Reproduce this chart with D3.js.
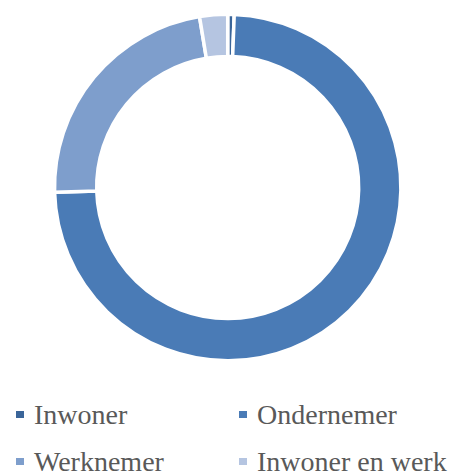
<!DOCTYPE html>
<html><head><meta charset="utf-8">
<script src="https://cdn.jsdelivr.net/npm/d3@7"></script>
<style>body{margin:0;background:#fff}svg{display:block}</style>
</head><body>
<script>
const categories = ["Inwoner", "Ondernemer", "Werknemer", "Inwoner en werk"];
const values = [0.6, 73.9, 22.8, 2.6];
const colors = ["#3a6599", "#4a7bb6", "#7e9ecc", "#b5c5e1"];

const W = 459, H = 471;
const svg = d3.select("body").append("svg").attr("width", W).attr("height", H);
const cx = 227.7, cy = 187.5, rOuter = 173.2, rInner = 131;

const data = categories.map((c, i) => ({cat: c, value: values[i], color: colors[i]}));
const pie = d3.pie().sort(null).value(d => d.value);
const arc = d3.arc().innerRadius(rInner).outerRadius(rOuter);

svg.append("g").attr("transform", `translate(${cx},${cy})`)
  .selectAll("path").data(pie(data)).join("path")
  .attr("d", arc).attr("fill", d => d.data.color)
  .attr("stroke", "#fff").attr("stroke-width", 3.5).attr("stroke-linejoin", "miter");

const legendPos = [[16, 411], [239, 411], [16, 458], [239, 458]];
const lg = svg.append("g").selectAll("g").data(data).join("g")
  .attr("transform", (d, i) => `translate(${legendPos[i][0]},${legendPos[i][1]})`);
lg.append("rect").attr("width", 8).attr("height", 7).attr("fill", d => d.color);
lg.append("text").attr("x", 18).attr("y", 12.5)
  .attr("font-family", "'Liberation Serif', 'Times New Roman', serif")
  .attr("font-size", 28).attr("fill", "#595959").text(d => d.cat);
</script>
</body></html>
